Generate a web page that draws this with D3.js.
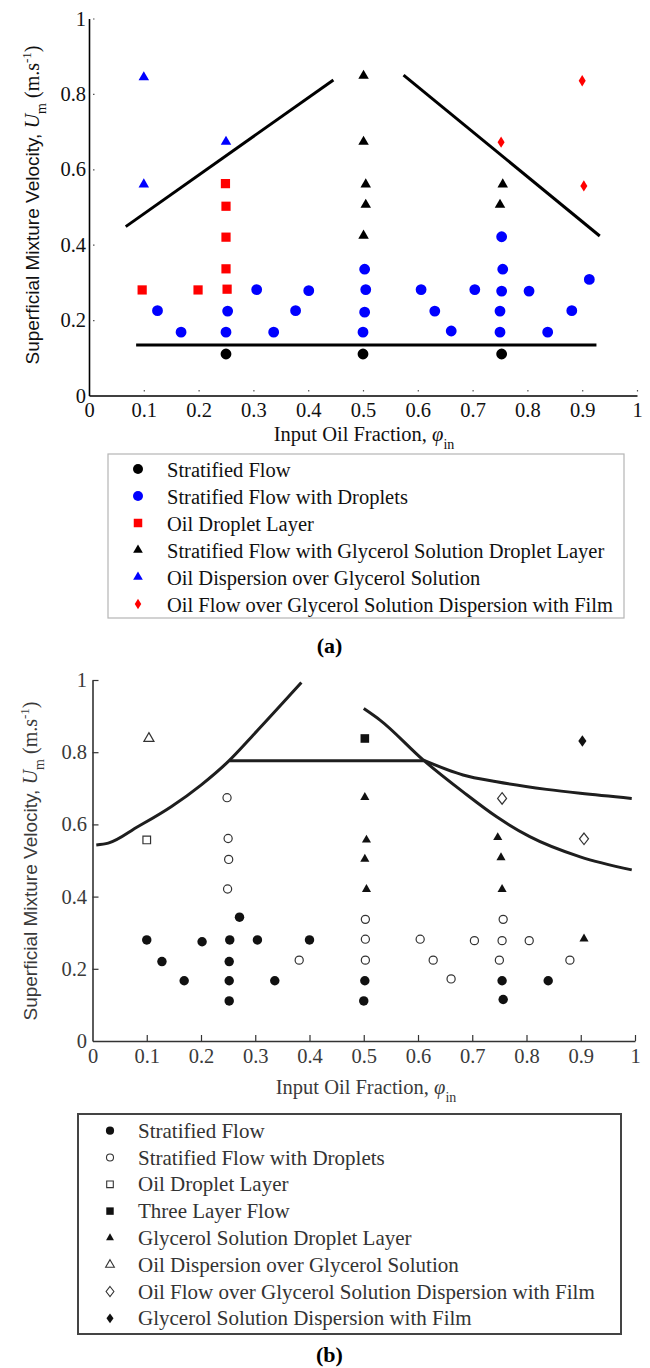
<!DOCTYPE html>
<html>
<head>
<meta charset="utf-8">
<script src="https://cdn.jsdelivr.net/npm/d3@7"></script>
<style>
  body { margin: 0; background: #fff; }
  svg { display: block; }
  text { font-family: "Liberation Serif", "Times New Roman", serif; }
</style>
</head>
<body>
<svg id="svg"></svg>
<script>
const W = 650, H = 1368;

const xTicks = [0, 0.1, 0.2, 0.3, 0.4, 0.5, 0.6, 0.7, 0.8, 0.9, 1];
const xTickLabels = ["0", "0.1", "0.2", "0.3", "0.4", "0.5", "0.6", "0.7", "0.8", "0.9", "1"];
const yTicks = [0, 0.2, 0.4, 0.6, 0.8, 1];
const yTickLabels = ["0", "0.2", "0.4", "0.6", "0.8", "1"];

// ---- panel (a) ----
const aStratified = [[0.25, 0.11], [0.5, 0.11], [0.753, 0.11]];
const aStratDroplets = [
  [0.125, 0.225], [0.168, 0.168], [0.253, 0.224], [0.25, 0.168], [0.306, 0.281],
  [0.337, 0.168], [0.377, 0.225], [0.401, 0.278], [0.503, 0.335], [0.505, 0.281],
  [0.503, 0.221], [0.5, 0.168], [0.606, 0.281], [0.631, 0.224], [0.661, 0.171],
  [0.704, 0.281], [0.753, 0.421], [0.755, 0.335], [0.753, 0.277], [0.75, 0.224],
  [0.75, 0.168], [0.803, 0.277], [0.837, 0.168], [0.881, 0.225], [0.913, 0.308]
];
const aOilDropletLayer = [[0.097, 0.28], [0.199, 0.28], [0.249, 0.562], [0.25, 0.502], [0.25, 0.42], [0.25, 0.336], [0.252, 0.282]];
const aGlycDropletLayer = [[0.501, 0.848], [0.501, 0.673], [0.505, 0.56], [0.505, 0.506], [0.501, 0.424], [0.755, 0.56], [0.75, 0.506]];
const aOilDispersion = [[0.1, 0.844], [0.1, 0.56], [0.25, 0.673]];
const aOilFlowFilm = [[0.9, 0.835], [0.752, 0.672], [0.903, 0.556]];

const aLineLeft = [[0.067, 0.448], [0.446, 0.837]];
const aLineRight = [[0.574, 0.85], [0.932, 0.423]];
const aLineBottom = [[0.086, 0.134], [0.926, 0.134]];

const aLegendLabels = [
  "Stratified Flow",
  "Stratified Flow with Droplets",
  "Oil Droplet Layer",
  "Stratified Flow with Glycerol Solution Droplet Layer",
  "Oil Dispersion over Glycerol Solution",
  "Oil Flow over Glycerol Solution Dispersion with Film"
];

// ---- panel (b) ----
const bStratified = [
  [0.1, 0.28], [0.128, 0.22], [0.169, 0.167], [0.202, 0.275], [0.253, 0.28],
  [0.252, 0.22], [0.252, 0.167], [0.252, 0.111], [0.271, 0.343], [0.304, 0.28],
  [0.336, 0.167], [0.4, 0.28], [0.502, 0.167], [0.5, 0.111], [0.755, 0.167],
  [0.757, 0.115], [0.84, 0.167]
];
const bStratDroplets = [
  [0.248, 0.674], [0.25, 0.561], [0.251, 0.503], [0.249, 0.421], [0.381, 0.224],
  [0.503, 0.337], [0.503, 0.282], [0.503, 0.224], [0.604, 0.282], [0.628, 0.224],
  [0.661, 0.172], [0.704, 0.278], [0.757, 0.337], [0.755, 0.278], [0.75, 0.224],
  [0.805, 0.278], [0.88, 0.224]
];
const bOilDropletLayer = [[0.1, 0.557]];
const bThreeLayer = [[0.502, 0.838]];
const bGlycDropletLayer = [[0.502, 0.675], [0.505, 0.557], [0.502, 0.504], [0.505, 0.42], [0.747, 0.564], [0.753, 0.508], [0.755, 0.42], [0.906, 0.283]];
const bOilDispersion = [[0.104, 0.838]];
const bOilFlowFilm = [[0.755, 0.672], [0.906, 0.56]];
const bGlycDispersionFilm = [[0.903, 0.831]];

const bCurveLeft = [[0.007, 0.543], [0.029, 0.548], [0.084, 0.594], [0.145, 0.649], [0.2, 0.709], [0.25, 0.774], [0.299, 0.852], [0.385, 0.993]];
const bLineFlat = [[0.253, 0.776], [0.612, 0.776]];
const bCurveDown = [[0.5, 0.921], [0.53, 0.889], [0.61, 0.778], [0.683, 0.69], [0.745, 0.621], [0.806, 0.566], [0.899, 0.51], [0.994, 0.474]];
const bCurveUpper = [[0.61, 0.778], [0.683, 0.737], [0.745, 0.718], [0.837, 0.697], [0.899, 0.686], [0.994, 0.672]];

const bLegendLabels = [
  "Stratified Flow",
  "Stratified Flow with Droplets",
  "Oil Droplet Layer",
  "Three Layer Flow",
  "Glycerol Solution Droplet Layer",
  "Oil Dispersion over Glycerol Solution",
  "Oil Flow over Glycerol Solution Dispersion with Film",
  "Glycerol Solution Dispersion with Film"
];

// diamond with adjustable width/height ratio
function diamond(ratio) {
  return {
    draw(ctx, size) {
      const h = Math.sqrt(size / (2 * ratio));
      const w = h * ratio;
      ctx.moveTo(0, -h); ctx.lineTo(w, 0); ctx.lineTo(0, h); ctx.lineTo(-w, 0); ctx.closePath();
    }
  };
}

const svg = d3.select("#svg").attr("width", W).attr("height", H);

function drawAxes(x, y, opt) {
  const gx = svg.append("g").attr("transform", `translate(0,${y(0)})`)
    .call(d3.axisBottom(x).tickValues(xTicks).tickFormat((d, i) => xTickLabels[i])
      .tickSizeInner(opt.tick).tickSizeOuter(0).tickPadding(opt.xPad));
  const gy = svg.append("g").attr("transform", `translate(${x(0)},0)`)
    .call(d3.axisLeft(y).tickValues(yTicks).tickFormat((d, i) => yTickLabels[i])
      .tickSizeInner(opt.tick).tickSizeOuter(0).tickPadding(opt.yPad));
  [gx, gy].forEach(g => {
    g.attr("font-family", null);
    g.select(".domain").attr("stroke", opt.axisColor).attr("stroke-width", 1.6);
    g.selectAll(".tick line").attr("stroke", opt.tickColor).attr("stroke-width", 1.2)
      .attr("stroke-dasharray", opt.dash);
    g.selectAll(".tick text").attr("font-family", "'Liberation Serif', serif")
      .attr("font-size", 20.5).attr("fill", opt.textColor);
  });
  gx.selectAll(".tick line").filter(d => d === 0).remove();
  gy.selectAll(".tick line").filter(d => d === 0).remove();
}

function drawLine(x, y, pts, curve, color) {
  const line = d3.line().x(d => x(d[0])).y(d => y(d[1])).curve(curve);
  svg.append("path").attr("d", line(pts)).attr("fill", "none")
    .attr("stroke", color).attr("stroke-width", 3).attr("stroke-linecap", "butt");
}

function drawMarkers(x, y, pts, type, size, fill, stroke) {
  svg.append("g").selectAll("path").data(pts).join("path")
    .attr("transform", d => `translate(${x(d[0])},${y(d[1])})`)
    .attr("d", d3.symbol().type(type).size(size))
    .attr("fill", fill)
    .attr("stroke", stroke || "none")
    .attr("stroke-width", stroke ? 1.2 : 0);
}

function xTitle(cx, by, color) {
  const t = svg.append("text").attr("x", cx).attr("y", by).attr("text-anchor", "middle")
    .attr("font-size", 20.5).attr("fill", color);
  t.append("tspan").text("Input Oil Fraction, ");
  t.append("tspan").attr("font-style", "italic").text("\u03c6");
  t.append("tspan").attr("dy", 8).attr("font-size", 14).text("in");
}

function yTitle(bx, cy, color) {
  const t = svg.append("text").attr("transform", `translate(${bx},${cy}) rotate(-90)`)
    .attr("text-anchor", "middle").attr("font-size", 20).attr("fill", color);
  t.append("tspan").attr("font-family", "'Liberation Sans', sans-serif").attr("font-size", 19).text("Superficial Mixture Velocity, ");
  t.append("tspan").attr("font-style", "italic").text("U");
  t.append("tspan").attr("dy", 7).attr("font-size", 14).text("m");
  t.append("tspan").attr("dy", -7).text(" (m.s");
  t.append("tspan").attr("dy", -8).attr("font-size", 13).text("-1");
  t.append("tspan").attr("dy", 8).text(")");
}

// ================= panel (a) =================
const xa = d3.scaleLinear().domain([0, 1]).range([89, 637]);
const ya = d3.scaleLinear().domain([0, 1]).range([395.5, 18.5]);

drawAxes(xa, ya, { tick: -6, xPad: 7, yPad: 3, dash: "0,4,1.5,20", axisColor: "#000", tickColor: "#555", textColor: "#111" });
yTitle(39, 205, "#111");
xTitle(364, 441, "#111");

drawLine(xa, ya, aLineLeft, d3.curveLinear, "#000");
drawLine(xa, ya, aLineRight, d3.curveLinear, "#000");
drawLine(xa, ya, aLineBottom, d3.curveLinear, "#000");

const aSeries = [
  { data: aStratified, type: d3.symbolCircle, size: 92, fill: "#000" },
  { data: aStratDroplets, type: d3.symbolCircle, size: 92, fill: "#0000ff" },
  { data: aOilDropletLayer, type: d3.symbolSquare, size: 85, fill: "#ff0000" },
  { data: aGlycDropletLayer, type: d3.symbolTriangle, size: 48, fill: "#000" },
  { data: aOilDispersion, type: d3.symbolTriangle, size: 48, fill: "#0000ff" },
  { data: aOilFlowFilm, type: diamond(0.62), size: 40, fill: "#ff0000" }
];
aSeries.forEach(s => drawMarkers(xa, ya, s.data, s.type, s.size, s.fill));

// legend (a)
svg.append("rect").attr("x", 108).attr("y", 454).attr("width", 516).attr("height", 164)
  .attr("fill", "none").attr("stroke", "#b5b5b5").attr("stroke-width", 1.2);
aSeries.forEach((s, i) => {
  const cy = 469 + i * 27;
  svg.append("path").attr("transform", `translate(138,${cy})`)
    .attr("d", d3.symbol().type(s.type).size(s.size * 0.85)).attr("fill", s.fill);
  svg.append("text").attr("x", 167).attr("y", cy + 7.5).attr("font-size", 20.5)
    .attr("fill", "#111").text(aLegendLabels[i]);
});
svg.append("text").attr("x", 329.5).attr("y", 653).attr("text-anchor", "middle")
  .attr("font-size", 22).attr("font-weight", "bold").text("(a)");

// ================= panel (b) =================
const xb = d3.scaleLinear().domain([0, 1]).range([92.5, 635]);
const yb = d3.scaleLinear().domain([0, 1]).range([1041, 680]);

drawAxes(xb, yb, { tick: -6, xPad: 7, yPad: 5.5, dash: null, axisColor: "#333", tickColor: "#333", textColor: "#3a3a3a" });
yTitle(37, 861, "#3a3a3a");
xTitle(366, 1094, "#3a3a3a");

drawLine(xb, yb, bCurveLeft, d3.curveMonotoneX, "#1e1e1e");
drawLine(xb, yb, bLineFlat, d3.curveLinear, "#1e1e1e");
drawLine(xb, yb, bCurveDown, d3.curveMonotoneX, "#1e1e1e");
drawLine(xb, yb, bCurveUpper, d3.curveMonotoneX, "#1e1e1e");

const bSeries = [
  { data: bStratified, type: d3.symbolCircle, size: 70, fill: "#111" },
  { data: bStratDroplets, type: d3.symbolCircle, size: 52, fill: "#fff", stroke: "#333" },
  { data: bOilDropletLayer, type: d3.symbolSquare, size: 58, fill: "#fff", stroke: "#333" },
  { data: bThreeLayer, type: d3.symbolSquare, size: 74, fill: "#111" },
  { data: bGlycDropletLayer, type: d3.symbolTriangle, size: 36, fill: "#111" },
  { data: bOilDispersion, type: d3.symbolTriangle, size: 44, fill: "#fff", stroke: "#333" },
  { data: bOilFlowFilm, type: diamond(0.78), size: 52, fill: "#fff", stroke: "#333" },
  { data: bGlycDispersionFilm, type: diamond(0.72), size: 46, fill: "#111" }
];
bSeries.forEach(s => drawMarkers(xb, yb, s.data, s.type, s.size, s.fill, s.stroke));

// legend (b)
svg.append("rect").attr("x", 78).attr("y", 1114).attr("width", 543).attr("height", 220)
  .attr("fill", "none").attr("stroke", "#444").attr("stroke-width", 2);
bSeries.forEach((s, i) => {
  const cy = 1130.7 + i * 26.8;
  svg.append("path").attr("transform", `translate(110,${cy})`)
    .attr("d", d3.symbol().type(s.type).size(s.size * 0.75))
    .attr("fill", s.fill).attr("stroke", s.stroke || "none").attr("stroke-width", s.stroke ? 1.1 : 0);
  svg.append("text").attr("x", 138).attr("y", cy + 7).attr("font-size", 21)
    .attr("fill", "#333").text(bLegendLabels[i]);
});
svg.append("text").attr("x", 329.5).attr("y", 1362).attr("text-anchor", "middle")
  .attr("font-size", 22).attr("font-weight", "bold").text("(b)");
</script>
</body>
</html>
